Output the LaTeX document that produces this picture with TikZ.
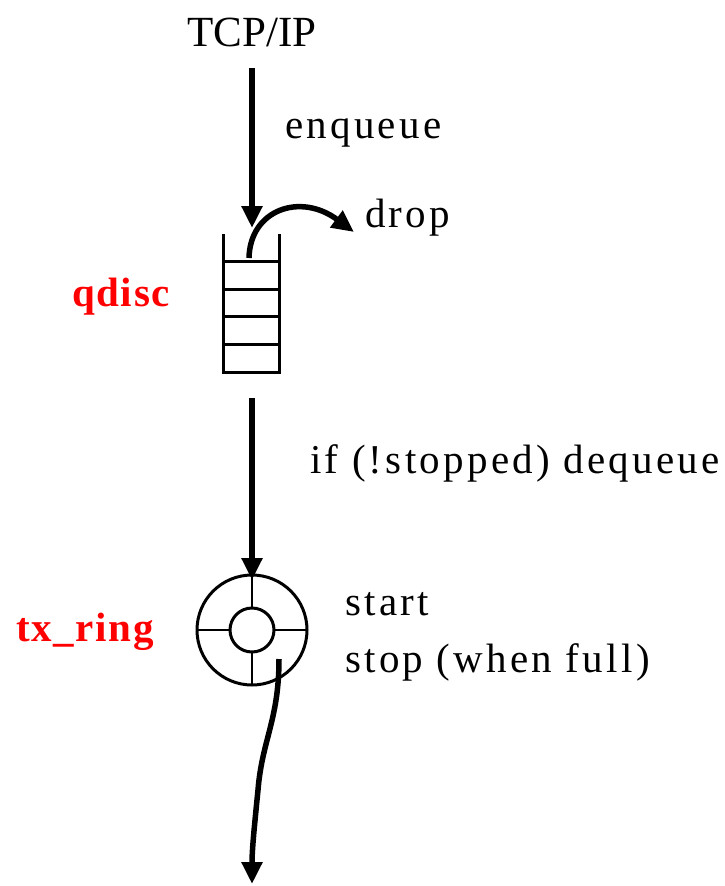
\documentclass[tikz,border=0pt]{standalone}
\usepackage{fontspec}
\setmainfont[LetterSpace=8]{Liberation Serif}
\newfontfamily\plainserif{Liberation Serif}
\newfontfamily\redserif[LetterSpace=4]{Liberation Serif}
\usetikzlibrary{arrows.meta}
\begin{document}
\begin{tikzpicture}[x=1pt,y=-1pt,
  lbl/.style={font=\fontsize{41}{44}\selectfont, inner sep=0pt},
  redlbl/.style={lbl, font=\fontsize{41}{44}\selectfont\redserif\bfseries, text=red},
  arr/.style={line width=5.5pt, -{Triangle[length=22pt,width=20pt]}},
  thin/.style={line width=3pt},
  spoke/.style={line width=1.8pt}]
\useasboundingbox (0,0) rectangle (725,886);
% labels
\node[lbl, font=\fontsize{43}{46}\selectfont\plainserif] (tcp) at (252,32) {TCP/IP};
\node[lbl, anchor=west] (enq) at (285,133) {enqueue};
\node[lbl, anchor=west] (drop) at (365,218) {drop};
\node[redlbl] (qdisc) at (121,297) {qdisc};
\node[lbl, anchor=west] (deq) at (310,463) {if (!stopped) dequeue};
\node[redlbl] (txring) at (85,632) {tx\_ring};
\node[lbl, anchor=west] (start) at (345,604) {start};
\node[lbl, anchor=west] (stop) at (345,662) {stop (when full)};
% queue
\coordinate (qtl) at (223,234);
\coordinate (qtr) at (279,234);
\draw[thin] (qtl) -- (223,372) -- (279,372) -- (qtr);
\foreach \y in {261,289,316,344} \draw[thin] (223,\y) -- (279,\y);
% ring
\coordinate (rc) at (252,630);
\draw[thin] (rc) circle[radius=55];
\draw[thin] (rc) circle[radius=22];
\draw[spoke] (252,575) -- (252,608);
\draw[spoke] (252,652) -- (252,685);
\draw[spoke] (197,630) -- (230,630);
\draw[spoke] (274,630) -- (307,630);
% arrows
\coordinate (a1s) at (252,68);
\coordinate (a1e) at (252,228);
\draw[arr] (a1s) -- (a1e);
\coordinate (ds) at (249,258);
\coordinate (de) at (354,232);
\draw[arr] (ds) .. controls (250,210) and (300,192) .. (de);
\coordinate (a2s) at (252,398);
\coordinate (a2e) at (252,580);
\draw[arr] (a2s) -- (a2e);
\coordinate (ws) at (279,659);
\coordinate (we) at (252,884);
\draw[arr] (ws) .. controls (279,720) and (262,740) .. (258,790) .. controls (254,830) and (252,850) .. (we);
\end{tikzpicture}
\end{document}
